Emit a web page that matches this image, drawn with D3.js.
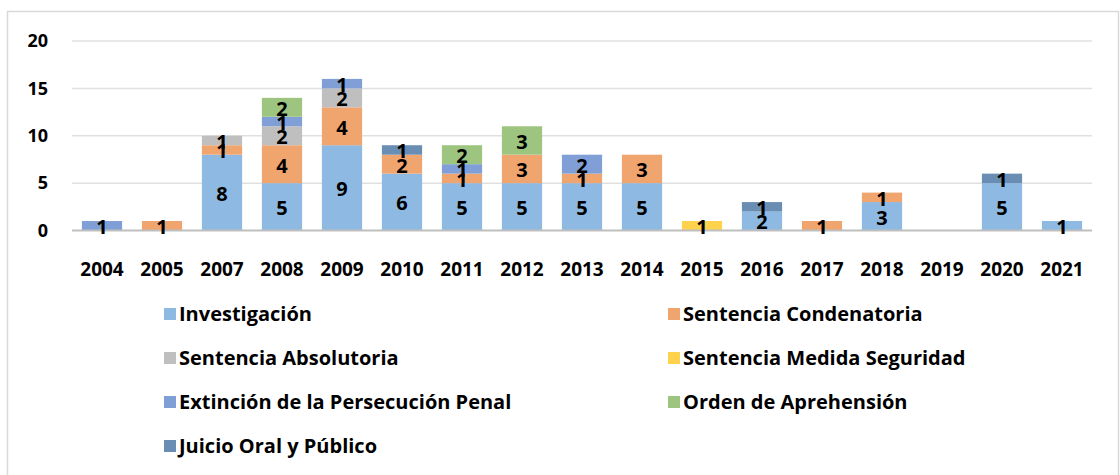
<!DOCTYPE html>
<html>
<head>
<meta charset="utf-8">
<script src="https://cdn.jsdelivr.net/npm/d3@7"></script>
<style>
  body { margin: 0; background: #fff; }
  text { font-family: "Open Sans", sans-serif; font-weight: bold; }
</style>
</head>
<body>
<svg id="chart" width="1120" height="475"></svg>
<script>
// data
let years = ['2004','2005','2007','2008','2009','2010','2011','2012','2013','2014','2015','2016','2017','2018','2019','2020','2021']
let seriesNames = ['Investigación','Sentencia Condenatoria','Sentencia Absolutoria','Sentencia Medida Seguridad',
  'Extinción de la Persecución Penal','Orden de Aprehensión','Juicio Oral y Público']
let colors = ['#8db9e2','#f0a46e','#bfbfbf','#ffd24d','#7f9fd6','#9dc57f','#6a8db3']

let investigacion = [0,0,8,5,9,6,5,5,5,5,0,2,0,3,0,5,1]
let condenatoria  = [0,1,1,4,4,2,1,3,1,3,0,0,1,1,0,0,0]
let absolutoria   = [0,0,1,2,2,0,0,0,0,0,0,0,0,0,0,0,0]
let medida        = [0,0,0,0,0,0,0,0,0,0,1,0,0,0,0,0,0]
let extincion     = [1,0,0,1,1,0,1,0,2,0,0,0,0,0,0,0,0]
let orden         = [0,0,0,2,0,0,2,3,0,0,0,0,0,0,0,0,0]
let juicio        = [0,0,0,0,0,1,0,0,0,0,0,1,0,0,0,1,0]

let yTicks = [0,5,10,15,20]

let allSeries = [investigacion, condenatoria, absolutoria, medida, extincion, orden, juicio]

let rows = years.map((yr, i) => {
  let r = { year: yr }
  seriesNames.forEach((n, k) => { r[n] = allSeries[k][i] })
  return r
})

let svg = d3.select('#chart')

// frame
svg.append('rect')
  .attr('x', 7.5).attr('y', 11.5)
  .attr('width', 1111).attr('height', 480)
  .attr('fill', 'none')
  .attr('stroke', '#d9d9d9')
  .attr('stroke-width', 1.5)

let plotLeft = 72, plotRight = 1092, plotTop = 41, plotBottom = 230.5

let x = d3.scaleBand()
  .domain(years)
  .range([plotLeft, plotRight])
  .paddingInner(0.33)
  .paddingOuter(0.165)

let y = d3.scaleLinear()
  .domain([0, 20])
  .range([plotBottom, plotTop])

// gridlines
svg.append('g')
  .selectAll('line')
  .data(yTicks.filter(t => t > 0))
  .join('line')
  .attr('x1', plotLeft).attr('x2', plotRight)
  .attr('y1', d => y(d)).attr('y2', d => y(d))
  .attr('stroke', '#e0e0e0')
  .attr('stroke-width', 1.5)

// y tick labels
svg.append('g')
  .selectAll('text')
  .data(yTicks)
  .join('text')
  .attr('x', 48)
  .attr('y', d => y(d))
  .attr('dy', '0.35em')
  .attr('text-anchor', 'end')
  .attr('font-size', 18)
  .attr('fill', '#000')
  .text(d => d)

let stacked = d3.stack().keys(seriesNames)(rows)

let layers = svg.append('g')
  .selectAll('g')
  .data(stacked)
  .join('g')
  .attr('fill', (d, i) => colors[i])

layers.selectAll('rect')
  .data(d => d.filter(s => s[1] > s[0]))
  .join('rect')
  .attr('x', d => x(d.data.year))
  .attr('y', d => y(d[1]))
  .attr('width', x.bandwidth())
  .attr('height', d => y(d[0]) - y(d[1]))

// axis line at 0
svg.append('line')
  .attr('x1', plotLeft).attr('x2', plotRight)
  .attr('y1', plotBottom).attr('y2', plotBottom)
  .attr('stroke', '#bfbfbf')
  .attr('stroke-width', 2)

// value labels
let labelGroup = svg.append('g')
stacked.forEach(layer => {
  labelGroup.selectAll(null)
    .data(layer.filter(s => s[1] > s[0]))
    .join('text')
    .attr('x', d => x(d.data.year) + x.bandwidth() / 2)
    .attr('y', d => (y(d[0]) + y(d[1])) / 2)
    .attr('dy', '0.42em')
    .attr('text-anchor', 'middle')
    .attr('font-size', 20)
    .attr('fill', '#000')
    .text(d => d[1] - d[0])
})

// x labels
svg.append('g')
  .selectAll('text')
  .data(years)
  .join('text')
  .attr('x', d => x(d) + x.bandwidth() / 2)
  .attr('y', 269)
  .attr('dy', '0.35em')
  .attr('text-anchor', 'middle')
  .attr('font-size', 19)
  .attr('fill', '#000')
  .text(d => d)

// legend
let legend = svg.append('g')
  .selectAll('g')
  .data(seriesNames)
  .join('g')
  .attr('transform', (d, i) => 'translate(' + [i % 2 === 0 ? 164 : 668, 314 + Math.floor(i / 2) * 44] + ')')

legend.append('rect')
  .attr('x', 0).attr('y', -6)
  .attr('width', 12).attr('height', 12)
  .attr('fill', (d, i) => colors[i])

legend.append('text')
  .attr('x', 15)
  .attr('dy', '0.35em')
  .attr('font-size', 20)
  .attr('fill', '#000')
  .text(d => d)
</script>
</body>
</html>
